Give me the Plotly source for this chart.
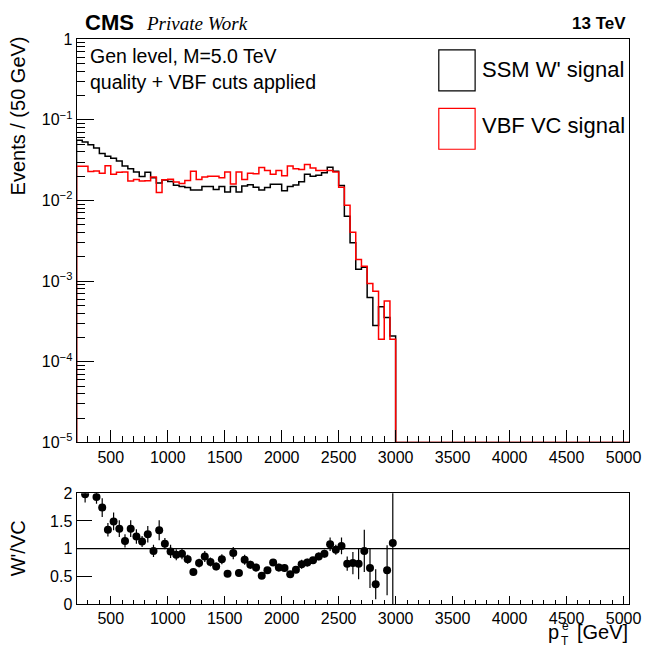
import numpy as np
import plotly.graph_objects as go

# ---------------- data ----------------
bin_width = 50
x_lo, x_hi = 200, 5050

# SSM W' signal (black), 50 GeV bins from 200 GeV; bins above 3000 GeV are empty
ssm_vals = [0.0558, 0.0530, 0.0492, 0.0448, 0.0382, 0.0354, 0.0333, 0.0308, 0.0268, 0.0248,
            0.0226, 0.0198, 0.0224, 0.0192, 0.0165, 0.0179, 0.0172, 0.0154, 0.0149, 0.0145,
            0.0135, 0.0135, 0.0149, 0.0149, 0.0137, 0.0149, 0.0127, 0.0149, 0.0127, 0.0151,
            0.0157, 0.0146, 0.0135, 0.0145, 0.0159, 0.0159, 0.0132, 0.0149, 0.0156, 0.0171,
            0.0211, 0.0200, 0.0205, 0.0221, 0.0259, 0.0230, 0.0153, 0.00640, 0.00299, 0.00140,
            0.00149, 0.000625, 0.000281, 0.000482, 0.000355, 0.000209]
# VBF VC signal (red)
vbf_vals = [0.0266, 0.0266, 0.0229, 0.0232, 0.0218, 0.0270, 0.0212, 0.0224, 0.0226, 0.0175,
            0.0182, 0.0175, 0.0176, 0.0196, 0.0126, 0.0181, 0.0183, 0.0170, 0.0162, 0.0177,
            0.0230, 0.0182, 0.0196, 0.0200, 0.0200, 0.0192, 0.0226, 0.0160, 0.0226, 0.0182,
            0.0217, 0.0214, 0.0257, 0.0236, 0.0211, 0.0236, 0.0202, 0.0267, 0.0248, 0.0243,
            0.0279, 0.0252, 0.0236, 0.0236, 0.0236, 0.0226, 0.0146, 0.00873, 0.00403, 0.00185,
            0.00153, 0.000938, 0.000751, 0.000191, 0.000569, 0.000191]

# ratio W'/VC (points outside 0..2 are not shown in the reference)
ratio_x = [275, 375, 425, 475, 525, 575, 625, 675, 725, 775, 825, 875, 925, 975,
           1025, 1075, 1125, 1175, 1225, 1275, 1325, 1375, 1425, 1475, 1525, 1575, 1625, 1675,
           1725, 1775, 1825, 1875, 1925, 1975, 2025, 2075, 2125, 2175, 2225, 2275, 2325, 2375,
           2425, 2475, 2525, 2575, 2625, 2675, 2725, 2775, 2825, 2925, 2975]
ratio_y = [1.98, 1.93, 1.74, 1.34, 1.49, 1.36, 1.14, 1.36, 1.22, 1.13, 1.26, 0.96, 1.33, 1.09,
           0.95, 0.89, 0.91, 0.81, 0.58, 0.74, 0.86, 0.76, 0.68, 0.81, 0.55, 0.92, 0.56, 0.80,
           0.71, 0.66, 0.51, 0.61, 0.75, 0.66, 0.65, 0.54, 0.62, 0.72, 0.75, 0.79, 0.86, 0.91,
           1.08, 0.98, 1.05, 0.73, 0.74, 0.73, 0.96, 0.65, 0.36, 0.61, 1.10]
ratio_err = [0.15, 0.12, 0.17, 0.12, 0.16, 0.15, 0.12, 0.15, 0.13, 0.10, 0.15, 0.11, 0.18, 0.10,
             0.12, 0.10, 0.10, 0.08, 0.05, 0.08, 0.10, 0.08, 0.07, 0.09, 0.05, 0.11, 0.05, 0.09,
             0.07, 0.07, 0.05, 0.06, 0.06, 0.07, 0.07, 0.05, 0.06, 0.08, 0.07, 0.06, 0.07, 0.07,
             0.12, 0.09, 0.15, 0.13, 0.20, 0.28, 0.38, 0.36, 0.27, 0.45, 2.50]

y_min_top = 1e-5
n_bins = int((x_hi - x_lo) / bin_width)
edges = np.linspace(x_lo, x_hi, n_bins + 1)

# ---------------- helpers ----------------
W, H = 654, 658
def px(x):
    return x / W
def py(y):
    return 1 - y / H

def step_xy(vals):
    v = list(vals) + [0.0] * (n_bins - len(vals))
    v = [val if val > 0 else y_min_top for val in v]
    xs = [edges[0]] + list(edges[:-1]) + [edges[-1]]
    ys = [y_min_top] + v + [v[-1]]
    return xs, ys

fig = go.Figure()

xs, ys = step_xy(ssm_vals)
fig.add_trace(go.Scatter(x=xs, y=ys, mode="lines", line=dict(color="black", width=1.5, shape="hv"),
                         xaxis="x", yaxis="y", cliponaxis=False, showlegend=False, hoverinfo="skip"))
xs, ys = step_xy(vbf_vals)
fig.add_trace(go.Scatter(x=xs, y=ys, mode="lines", line=dict(color="#ff0000", width=1.5, shape="hv"),
                         xaxis="x", yaxis="y", cliponaxis=False, showlegend=False, hoverinfo="skip"))

fig.add_trace(go.Scatter(x=ratio_x, y=ratio_y, mode="markers",
                         marker=dict(color="black", size=8, symbol="circle"),
                         error_y=dict(type="data", array=ratio_err, color="black", thickness=1.2, width=0),
                         xaxis="x2", yaxis="y2", showlegend=False))

top_dom = [py(446), py(32)]
bot_dom = [py(612), py(498)]
x_dom = [px(78), px(641)]

tickfont = dict(family="Liberation Sans, Arial, sans-serif", size=16, color="black")
xmaj = list(range(500, 5001, 500))
xmin_t = [v for v in range(300, 5001, 100) if v % 500 != 0]

common_x = dict(range=[x_lo, x_hi], domain=x_dom, showgrid=False, zeroline=False,
                showline=True, linecolor="black", linewidth=1, mirror=True,
                tickmode="array", tickvals=xmaj, ticktext=[str(v) for v in xmaj],
                ticks="inside", tickcolor="black", tickfont=tickfont)

ymaj = [1e-5, 1e-4, 1e-3, 1e-2, 1e-1, 1]
ytxt = ["10<sup>−5</sup>", "10<sup>−4</sup>", "10<sup>−3</sup>", "10<sup>−2</sup>", "10<sup>−1</sup>", "1"]
ymin_t = [m * 10.0 ** e for e in range(-5, 0) for m in range(2, 10)]

fig.update_layout(
    width=W, height=H, margin=dict(l=0, r=0, t=0, b=0),
    paper_bgcolor="white", plot_bgcolor="white",
    xaxis=dict(**common_x, anchor="y", ticklen=12,
               minor=dict(tickvals=xmin_t, ticks="inside", ticklen=6, tickcolor="black")),
    yaxis=dict(type="log", range=[-5, 0], domain=top_dom, anchor="x",
               showgrid=False, zeroline=False, showline=True, linecolor="black", linewidth=1, mirror=True,
               tickmode="array", tickvals=ymaj, ticktext=ytxt, ticks="inside", ticklen=17, tickcolor="black",
               tickfont=tickfont,
               minor=dict(tickvals=ymin_t, ticks="inside", ticklen=8, tickcolor="black")),
    xaxis2=dict(**common_x, anchor="y2", ticklen=8,
                minor=dict(tickvals=xmin_t, ticks="inside", ticklen=4, tickcolor="black")),
    yaxis2=dict(range=[0, 2], domain=bot_dom, anchor="x2",
                showgrid=False, zeroline=False, showline=True, linecolor="black", linewidth=1, mirror=True,
                tickmode="array", tickvals=[0, 0.5, 1, 1.5, 2], ticktext=["0", "0.5", "1", "1.5", "2"],
                ticks="inside", ticklen=15, tickcolor="black", tickfont=tickfont),
)

fig.add_shape(type="line", xref="x2 domain", yref="y2", x0=0, x1=1, y0=1, y1=1,
              line=dict(color="black", width=1.2))

# legend boxes
fig.add_shape(type="rect", xref="paper", yref="paper", x0=px(447), x1=px(484), y0=py(85), y1=py(43),
              line=dict(color="black", width=1.2), fillcolor="white")
fig.add_shape(type="rect", xref="paper", yref="paper", x0=px(447), x1=px(484), y0=py(145), y1=py(103),
              line=dict(color="#ff0000", width=1.2), fillcolor="white")

sans = "Liberation Sans, Arial, sans-serif"
def ann(text, x, y, size, xanchor="left", yanchor="middle", angle=0, family=sans):
    fig.add_annotation(text=text, x=px(x), y=py(y), xref="paper", yref="paper",
                       xanchor=xanchor, yanchor=yanchor, showarrow=False, textangle=angle,
                       borderpad=0,
                       font=dict(family=family, size=size, color="black"))

ann("SSM W' signal", 490, 63, 22)
ann("VBF VC signal", 490, 121, 22)
ann("Gen level, M=5.0 TeV", 91, 49, 19.5)
ann("quality + VBF cuts applied", 91, 76, 19.5)
ann("<b>CMS</b>", 86, 15, 22)
ann("<i>Private Work</i>", 148, 16, 19, family="Liberation Serif, Times New Roman, serif")
ann("<b>13 TeV</b>", 639, 16, 17, xanchor="right")
ann("Events / (50 GeV)", 18, 28, 20, xanchor="center", yanchor="top", angle=-90)
ann("W'/VC", 18, 555, 20, xanchor="center", angle=-90)
ann("p", 570, 641, 20, xanchor="right")
ann("e", 571, 634, 12)
ann("T", 570, 650, 12)
ann("[GeV]", 641, 641, 20, xanchor="right")

fig.write_html("out.html")
